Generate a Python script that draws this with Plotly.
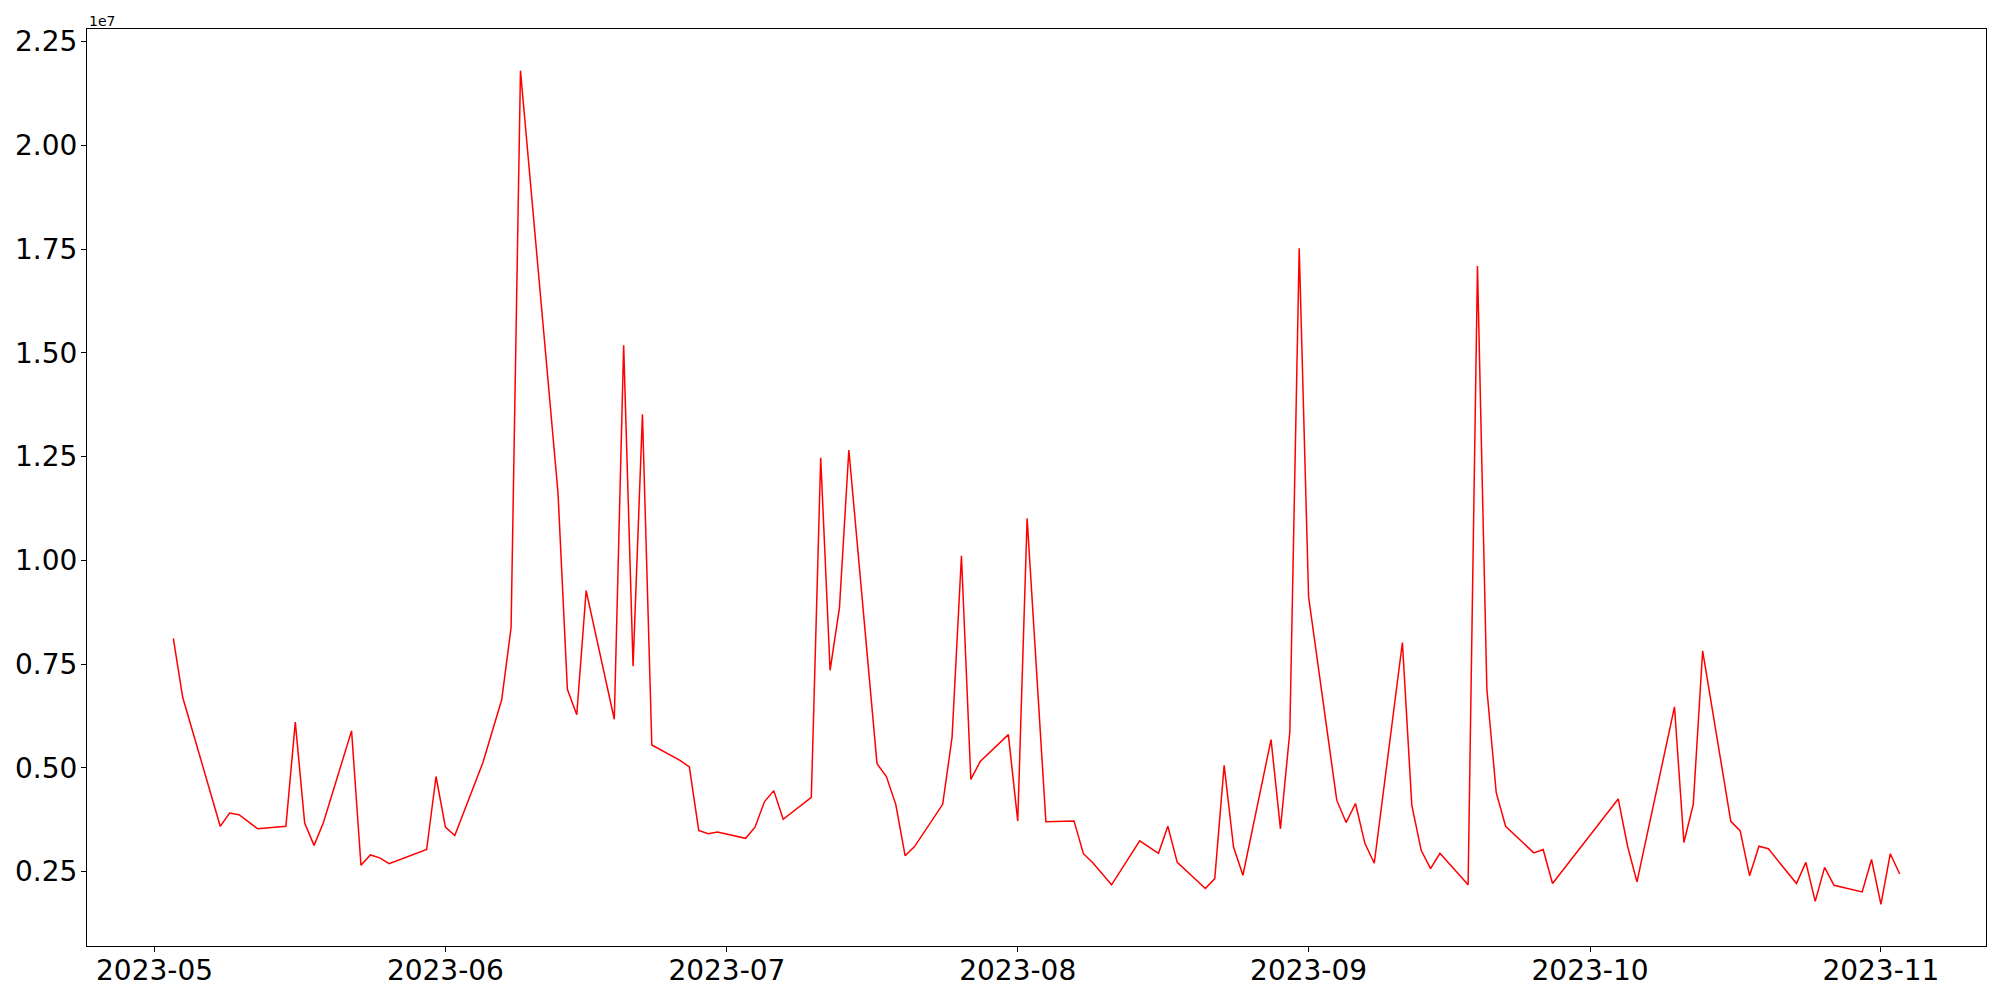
import pandas as pd
import plotly.graph_objects as go

dates = [
    "2023-05-03", "2023-05-04", "2023-05-08", "2023-05-09", "2023-05-10", "2023-05-11", "2023-05-12",
    "2023-05-15", "2023-05-16", "2023-05-17", "2023-05-18", "2023-05-19",
    "2023-05-22", "2023-05-23", "2023-05-24", "2023-05-25", "2023-05-26",
    "2023-05-30", "2023-05-31", "2023-06-01", "2023-06-02",
    "2023-06-05", "2023-06-07", "2023-06-08", "2023-06-09",
    "2023-06-13", "2023-06-14", "2023-06-15", "2023-06-16",
    "2023-06-19", "2023-06-20", "2023-06-21", "2023-06-22", "2023-06-23",
    "2023-06-26", "2023-06-27", "2023-06-28", "2023-06-29", "2023-06-30",
    "2023-07-03", "2023-07-04", "2023-07-05", "2023-07-06", "2023-07-07",
    "2023-07-10", "2023-07-11", "2023-07-12", "2023-07-13", "2023-07-14",
    "2023-07-17", "2023-07-18", "2023-07-19", "2023-07-20", "2023-07-21",
    "2023-07-24", "2023-07-25", "2023-07-26", "2023-07-27", "2023-07-28",
    "2023-07-31", "2023-08-01", "2023-08-02", "2023-08-04",
    "2023-08-07", "2023-08-08", "2023-08-09", "2023-08-11",
    "2023-08-14", "2023-08-16", "2023-08-17", "2023-08-18",
    "2023-08-21", "2023-08-22", "2023-08-23", "2023-08-24", "2023-08-25",
    "2023-08-28", "2023-08-29", "2023-08-30", "2023-08-31", "2023-09-01",
    "2023-09-04", "2023-09-05", "2023-09-06", "2023-09-07", "2023-09-08",
    "2023-09-11", "2023-09-12", "2023-09-13", "2023-09-14", "2023-09-15",
    "2023-09-18", "2023-09-19", "2023-09-20", "2023-09-21", "2023-09-22",
    "2023-09-25", "2023-09-26", "2023-09-27",
    "2023-10-04", "2023-10-05", "2023-10-06",
    "2023-10-10", "2023-10-11", "2023-10-12", "2023-10-13",
    "2023-10-16", "2023-10-17", "2023-10-18", "2023-10-19", "2023-10-20",
    "2023-10-23", "2023-10-24", "2023-10-25", "2023-10-26", "2023-10-27",
    "2023-10-30", "2023-10-31", "2023-11-01", "2023-11-02", "2023-11-03",
]

values_1e7 = [
    0.812, 0.670, 0.359, 0.391, 0.387, 0.370, 0.353,
    0.359, 0.610, 0.367, 0.313, 0.368,
    0.589, 0.265, 0.290, 0.283, 0.269,
    0.303, 0.479, 0.357, 0.337,
    0.513, 0.664, 0.838, 2.180,
    1.163, 0.689, 0.628, 0.927,
    0.617, 1.518, 0.745, 1.352, 0.555,
    0.518, 0.502, 0.349, 0.341, 0.345,
    0.330, 0.357, 0.418, 0.445, 0.376,
    0.429, 1.247, 0.735, 0.886, 1.266,
    0.510, 0.479, 0.412, 0.288, 0.310,
    0.412, 0.573, 1.011, 0.472, 0.515,
    0.580, 0.372, 1.101, 0.370,
    0.372, 0.293, 0.271, 0.218,
    0.324, 0.294, 0.359, 0.272,
    0.209, 0.233, 0.506, 0.309, 0.241,
    0.568, 0.353, 0.587, 1.752, 0.912,
    0.422, 0.368, 0.414, 0.318, 0.270,
    0.802, 0.410, 0.301, 0.257, 0.294,
    0.218, 1.709, 0.690, 0.440, 0.359,
    0.295, 0.303, 0.221,
    0.425, 0.311, 0.225,
    0.647, 0.320, 0.412, 0.782,
    0.371, 0.348, 0.240, 0.311, 0.305,
    0.221, 0.272, 0.178, 0.260, 0.217,
    0.201, 0.279, 0.171, 0.293, 0.244,
]

y_tick_values_1e7 = [0.25, 0.50, 0.75, 1.00, 1.25, 1.50, 1.75, 2.00, 2.25]
y_tick_labels = ["0.25", "0.50", "0.75", "1.00", "1.25", "1.50", "1.75", "2.00", "2.25"]
x_tick_dates = ["2023-05-01", "2023-06-01", "2023-07-01", "2023-08-01",
                "2023-09-01", "2023-10-01", "2023-11-01"]
x_tick_labels = ["2023-05", "2023-06", "2023-07", "2023-08", "2023-09", "2023-10", "2023-11"]

x = pd.to_datetime(dates)
y = [v * 1e7 for v in values_1e7]

# matplotlib-like 5% autoscale margins
xmin, xmax = x.min(), x.max()
xpad = (xmax - xmin) * 0.05
ymin, ymax = min(y), max(y)
ypad = (ymax - ymin) * 0.05

FONT = "DejaVu Sans"

fig = go.Figure()
fig.add_trace(go.Scatter(x=x, y=y, mode="lines",
                         line=dict(color="red", width=1.5),
                         showlegend=False, hoverinfo="skip"))

axis_common = dict(
    showgrid=False, zeroline=False, automargin=False,
    showline=True, mirror=True, linecolor="black", linewidth=1.2,
    ticks="outside", ticklen=5, tickwidth=1.1, tickcolor="black",
    tickfont=dict(family=FONT, size=28, color="black"),
)

fig.update_xaxes(
    range=[xmin - xpad, xmax + xpad],
    tickvals=pd.to_datetime(x_tick_dates), ticktext=x_tick_labels,
    ticklabelstandoff=-6,
    **axis_common,
)
fig.update_yaxes(
    range=[ymin - ypad, ymax + ypad],
    tickvals=[v * 1e7 for v in y_tick_values_1e7], ticktext=y_tick_labels,
    ticklabelstandoff=-2,
    **axis_common,
)

fig.add_annotation(text="1e7", xref="paper", yref="paper", x=0, y=1,
                   xanchor="left", yanchor="bottom", showarrow=False,
                   font=dict(family=FONT, size=14, color="black"), yshift=-2)

# page body has an 8px default margin, so the figure is sized to fit inside it
fig.update_layout(
    template="none",
    width=1984, height=984,
    margin=dict(l=79, r=6, t=21, b=46, pad=0),
    paper_bgcolor="white", plot_bgcolor="white",
    font=dict(family=FONT, color="black"),
)

fig.write_html("out.html")
